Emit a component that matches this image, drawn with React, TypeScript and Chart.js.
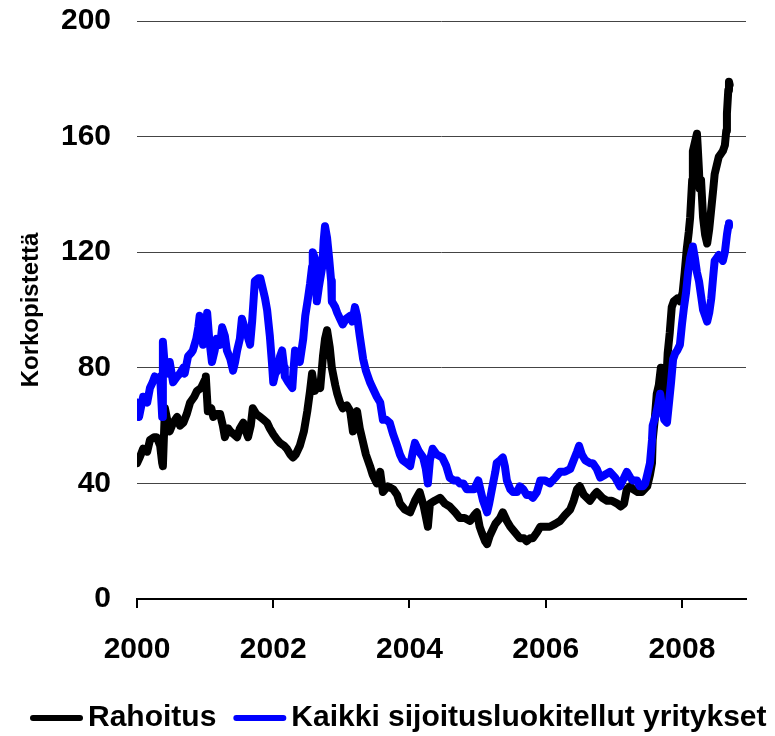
import React, { useEffect, useRef } from "react";
import { Chart, registerables } from "chart.js";

Chart.register(...registerables);

// ---- Data (decimal years, basis points) ----
const rahoitusYears = [
  2000.00, 2000.04, 2000.09, 2000.15, 2000.19, 2000.25, 2000.29, 2000.34, 2000.37, 2000.38,
  2000.41, 2000.46, 2000.48, 2000.53, 2000.59, 2000.63, 2000.68, 2000.73, 2000.78, 2000.84,
  2000.88, 2000.94, 2001.00, 2001.01, 2001.04, 2001.09, 2001.12, 2001.17, 2001.22, 2001.26,
  2001.29, 2001.34, 2001.37, 2001.42, 2001.47, 2001.51, 2001.56, 2001.60, 2001.63, 2001.67,
  2001.70, 2001.75, 2001.81, 2001.86, 2001.91, 2001.95, 2002.00, 2002.06, 2002.10, 2002.16,
  2002.20, 2002.25, 2002.29, 2002.33, 2002.39, 2002.45, 2002.50, 2002.54, 2002.57, 2002.61,
  2002.66, 2002.69, 2002.73, 2002.76, 2002.79, 2002.80, 2002.83, 2002.86, 2002.91, 2002.94,
  2002.98, 2003.02, 2003.08, 2003.13, 2003.17, 2003.20, 2003.23, 2003.27, 2003.32, 2003.36,
  2003.42, 2003.46, 2003.52, 2003.57, 2003.61, 2003.68, 2003.76, 2003.82, 2003.86, 2003.93,
  2004.01, 2004.08, 2004.15, 2004.21, 2004.27, 2004.30, 2004.37, 2004.45, 2004.52, 2004.59,
  2004.67, 2004.74, 2004.81, 2004.89, 2004.95, 2004.99, 2005.03, 2005.06, 2005.11, 2005.14,
  2005.18, 2005.26, 2005.33, 2005.37, 2005.43, 2005.48, 2005.55, 2005.62, 2005.68, 2005.72,
  2005.77, 2005.81, 2005.87, 2005.92, 2005.99, 2006.06, 2006.14, 2006.21, 2006.28, 2006.36,
  2006.41, 2006.46, 2006.50, 2006.56, 2006.65, 2006.71, 2006.75, 2006.83, 2006.90, 2006.97,
  2007.05, 2007.10, 2007.15, 2007.19, 2007.24, 2007.28, 2007.35, 2007.41, 2007.49, 2007.53,
  2007.56, 2007.57, 2007.60, 2007.63, 2007.66, 2007.69, 2007.72, 2007.74, 2007.77, 2007.79,
  2007.82, 2007.85, 2007.88, 2007.93, 2007.97, 2008.01, 2008.04, 2008.07, 2008.10, 2008.12,
  2008.15, 2008.16, 2008.19, 2008.22, 2008.23, 2008.25, 2008.26, 2008.28, 2008.31, 2008.34,
  2008.37, 2008.40, 2008.43, 2008.46, 2008.48, 2008.51, 2008.54, 2008.57, 2008.60, 2008.63,
  2008.65, 2008.66, 2008.68, 2008.69, 2008.70,
];
const rahoitusValues = [
  47, 49, 52, 51, 55, 56, 56, 53, 47, 46,
  66, 60, 58, 61, 63, 60, 61, 64, 68, 70,
  72, 73, 76, 77, 65, 66, 63, 64, 64, 60,
  56, 59, 58, 57, 56, 59, 61, 58, 56, 60,
  66, 64, 63, 62, 61, 59, 57, 55, 54, 53,
  52, 50, 49, 50, 53, 58, 65, 72, 78, 72,
  74, 73, 84, 90, 93, 93, 87, 80, 74, 71,
  68, 66, 67, 65, 58, 63, 65, 59, 54, 50,
  46, 43, 40, 44, 37, 39, 38, 36, 33, 31,
  30, 34, 37, 32, 25, 33, 34, 35, 33, 32,
  30, 28, 28, 27, 29, 30, 25, 23, 20, 19,
  22, 26, 28, 30, 27, 25, 23, 21, 21, 20,
  21, 21, 23, 25, 25, 25, 26, 27, 29, 31,
  34, 38, 39, 36, 34, 36, 37, 35, 34, 34,
  33, 32, 33, 38, 39, 38, 37, 37, 39, 43,
  47, 55, 62, 71, 74, 80, 72, 69, 75, 85,
  92, 101, 103, 104, 103, 106, 113, 121, 127, 132,
  145, 155, 158, 161, 157, 148, 142, 145, 132, 126,
  123, 128, 135, 142, 147, 150, 153, 154, 155, 157,
  162, 168, 176, 179, 178,
];

const kaikkiYears = [
  2000.00, 2000.03, 2000.09, 2000.15, 2000.19, 2000.23, 2000.26, 2000.31, 2000.34, 2000.37,
  2000.38, 2000.41, 2000.46, 2000.48, 2000.53, 2000.59, 2000.63, 2000.68, 2000.70, 2000.75,
  2000.79, 2000.82, 2000.87, 2000.90, 2000.92, 2000.95, 2000.97, 2001.00, 2001.03, 2001.06,
  2001.10, 2001.14, 2001.17, 2001.22, 2001.25, 2001.29, 2001.32, 2001.37, 2001.41, 2001.44,
  2001.47, 2001.51, 2001.54, 2001.59, 2001.61, 2001.66, 2001.69, 2001.73, 2001.78, 2001.81,
  2001.85, 2001.88, 2001.91, 2001.95, 2001.98, 2002.00, 2002.03, 2002.06, 2002.10, 2002.13,
  2002.16, 2002.17, 2002.22, 2002.28, 2002.30, 2002.32, 2002.36, 2002.39, 2002.44, 2002.47,
  2002.51, 2002.54, 2002.57, 2002.58, 2002.61, 2002.64, 2002.67, 2002.72, 2002.74, 2002.76,
  2002.79, 2002.82, 2002.85, 2002.86, 2002.91, 2002.94, 2002.98, 2003.02, 2003.07, 2003.13,
  2003.16, 2003.20, 2003.23, 2003.27, 2003.32, 2003.36, 2003.42, 2003.48, 2003.52, 2003.57,
  2003.61, 2003.66, 2003.71, 2003.76, 2003.82, 2003.86, 2003.90, 2003.96, 2004.01, 2004.05,
  2004.08, 2004.14, 2004.20, 2004.24, 2004.27, 2004.30, 2004.34, 2004.40, 2004.48, 2004.54,
  2004.59, 2004.65, 2004.70, 2004.74, 2004.79, 2004.84, 2004.89, 2004.95, 2005.01, 2005.05,
  2005.08, 2005.11, 2005.14, 2005.17, 2005.21, 2005.26, 2005.28, 2005.33, 2005.37, 2005.40,
  2005.43, 2005.48, 2005.52, 2005.58, 2005.62, 2005.67, 2005.72, 2005.77, 2005.81, 2005.87,
  2005.92, 2005.99, 2006.06, 2006.14, 2006.21, 2006.28, 2006.36, 2006.41, 2006.46, 2006.49,
  2006.53, 2006.58, 2006.65, 2006.69, 2006.75, 2006.80, 2006.87, 2006.94, 2007.02, 2007.09,
  2007.15, 2007.19, 2007.24, 2007.28, 2007.34, 2007.38, 2007.43, 2007.46, 2007.50, 2007.53,
  2007.56, 2007.57, 2007.62, 2007.65, 2007.68, 2007.71, 2007.74, 2007.78, 2007.81, 2007.84,
  2007.87, 2007.90, 2007.93, 2007.97, 2008.00, 2008.03, 2008.06, 2008.09, 2008.12, 2008.15,
  2008.16, 2008.19, 2008.22, 2008.25, 2008.28, 2008.31, 2008.34, 2008.37, 2008.40, 2008.43,
  2008.46, 2008.48, 2008.51, 2008.54, 2008.57, 2008.60, 2008.63, 2008.66, 2008.68, 2008.69,
];
const kaikkiValues = [
  68, 63, 70, 68, 73, 75, 77, 76, 77, 63,
  89, 80, 78, 82, 75, 77, 78, 80, 78, 84,
  85, 86, 90, 94, 98, 95, 88, 92, 99, 90,
  82, 86, 90, 88, 94, 91, 86, 83, 79, 82,
  86, 90, 97, 93, 92, 88, 96, 110, 111, 111,
  107, 104, 100, 91, 82, 75, 78, 79, 84, 86,
  80, 77, 75, 73, 80, 86, 84, 82, 90, 98,
  104, 109, 115, 120, 118, 103, 108, 115, 124, 129,
  125, 118, 110, 103, 101, 99, 97, 95, 97, 98,
  96, 101, 98, 91, 83, 79, 75, 72, 70, 68,
  62, 62, 61, 57, 53, 50, 48, 47, 46, 51,
  54, 51, 49, 45, 40, 48, 52, 50, 49, 46,
  42, 41, 41, 40, 40, 38, 38, 38, 41, 37,
  34, 32, 30, 33, 38, 44, 47, 48, 49, 46,
  41, 38, 37, 37, 39, 38, 36, 36, 35, 37,
  41, 41, 40, 42, 44, 44, 45, 48, 51, 53,
  50, 48, 47, 47, 45, 42, 43, 44, 42, 39,
  42, 44, 42, 41, 41, 39, 39, 40, 44, 47,
  55, 60, 64, 67, 71, 66, 62, 61, 68, 75,
  83, 85, 86, 88, 95, 101, 106, 113, 118, 121,
  122, 118, 113, 110, 105, 100, 98, 96, 99, 104,
  112, 117, 118, 119, 118, 117, 120, 126, 129, 130,
];

const seriesLabels = ["Rahoitus", "Kaikki sijoitusluokitellut yritykset"];
const seriesColors = ["#000000", "#0000ff"];
const yTicks = [0, 40, 80, 120, 160, 200];
const xTickYears = [2000, 2002, 2004, 2006, 2008];
const yAxisTitle = "Korkopistettä";
const xMin = 2000;
const xMax = 2008.94;

const FONT = '"Liberation Sans", Arial, Helvetica, sans-serif';

const legendPlugin = {
  id: "customLegend",
  afterDraw(chart: any) {
    const ctx = chart.ctx;
    ctx.save();
    ctx.font = `bold 30px ${FONT}`;
    ctx.textBaseline = "middle";
    ctx.textAlign = "left";
    const y = chart.height - 18;
    let x = 30;
    chart.data.datasets.forEach((ds: any) => {
      ctx.strokeStyle = ds.borderColor;
      ctx.lineWidth = 6;
      ctx.lineCap = "round";
      ctx.beginPath();
      ctx.moveTo(x + 3, y);
      ctx.lineTo(x + 50, y);
      ctx.stroke();
      x += 58;
      ctx.fillStyle = "#000";
      ctx.fillText(ds.label, x, y);
      x += ctx.measureText(ds.label).width + 17;
    });
    ctx.restore();
  },
};

export default function App() {
  const canvasRef = useRef<HTMLCanvasElement | null>(null);

  useEffect(() => {
    if (!canvasRef.current) return;
    const chart = new Chart(canvasRef.current, {
      type: "line",
      data: {
        datasets: [
          {
            label: seriesLabels[0],
            data: rahoitusYears.map((x, i) => ({ x, y: rahoitusValues[i] })),
            borderColor: seriesColors[0],
            backgroundColor: seriesColors[0],
            borderWidth: 8,
            pointRadius: 0,
            borderJoinStyle: "round",
            borderCapStyle: "round",
            tension: 0,
            order: 2,
          },
          {
            label: seriesLabels[1],
            data: kaikkiYears.map((x, i) => ({ x, y: kaikkiValues[i] })),
            borderColor: seriesColors[1],
            backgroundColor: seriesColors[1],
            borderWidth: 8,
            pointRadius: 0,
            borderJoinStyle: "round",
            borderCapStyle: "round",
            tension: 0,
            order: 1,
          },
        ],
      },
      options: {
        animation: false,
        responsive: false,
        maintainAspectRatio: false,
        layout: { padding: { top: 21, right: 29, left: 0, bottom: 0 } },
        scales: {
          x: {
            type: "linear",
            min: xMin,
            max: xMax,
            afterBuildTicks: (scale: any) => {
              scale.ticks = xTickYears.map((v) => ({ value: v }));
            },
            ticks: {
              callback: (v: any) => String(v),
              font: { family: FONT, size: 30, weight: "bold" },
              color: "#000",
              padding: 24,
              maxRotation: 0,
              autoSkip: false,
            },
            grid: {
              drawOnChartArea: false,
              drawTicks: true,
              tickLength: 9,
              color: "#000",
              lineWidth: 2,
            },
            border: { display: true, color: "#000", width: 2 },
            afterFit: (scale: any) => {
              scale.height = 137;
            },
          },
          y: {
            type: "linear",
            min: 0,
            max: 200,
            afterBuildTicks: (scale: any) => {
              scale.ticks = yTicks.map((v) => ({ value: v }));
            },
            ticks: {
              font: { family: FONT, size: 30, weight: "bold" },
              color: "#000",
              padding: 0,
            },
            grid: {
              drawTicks: true,
              tickLength: 26,
              tickColor: "rgba(0,0,0,0)",
              color: "#444",
              lineWidth: 1,
            },
            border: { display: false },
            title: {
              display: true,
              text: yAxisTitle,
              font: { family: FONT, size: 24, weight: "bold" },
              color: "#000",
              padding: { top: 17, bottom: 0 },
            },
            afterFit: (scale: any) => {
              scale.width = 137;
            },
          },
        },
        plugins: {
          legend: { display: false },
          tooltip: { enabled: false },
        },
      },
      plugins: [legendPlugin],
    } as any);
    return () => chart.destroy();
  }, []);

  return (
    <div style={{ position: "absolute", left: 0, top: 0, width: 775, height: 736, background: "#fff" }}>
      <canvas ref={canvasRef} width={775} height={736} style={{ display: "block", width: 775, height: 736 }} />
    </div>
  );
}
